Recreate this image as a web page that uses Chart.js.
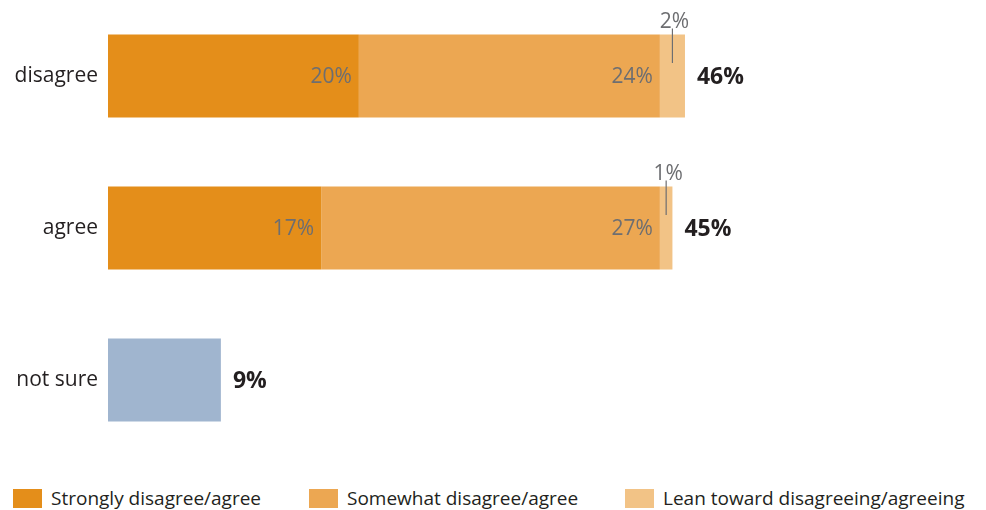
<!DOCTYPE html>
<html>
<head>
<meta charset="utf-8">
<script src="https://cdn.jsdelivr.net/npm/chart.js@4/dist/chart.umd.min.js"></script>
<style>
  html, body { margin: 0; padding: 0; background: #fff; }
  .wrap { position: relative; width: 986px; height: 510px; }
  #chartBox { position: absolute; left: 0; top: 0; width: 986px; height: 456px; }
  #legend { position: absolute; left: 0; top: 489px; width: 986px; height: 20px;
            font-family: "Open Sans", sans-serif; font-size: 19px; color: #231f20; }
  .leg-item { position: absolute; top: 0; display: flex; align-items: center; white-space: nowrap; }
  .leg-item:nth-child(1) { left: 13px; }
  .leg-item:nth-child(2) { left: 309px; }
  .leg-item:nth-child(3) { left: 625px; }
  .leg-box { width: 29px; height: 19px; margin-right: 9px; }
  .leg-text { line-height: 19px; }
</style>
</head>
<body>
<div class="wrap">
  <div id="chartBox"><canvas id="opinionChart"></canvas></div>
  <div id="legend"></div>
</div>
<script>
// Категории и значения (%)
const categories = ['disagree', 'agree', 'not sure'];
const seriesNames = ['Strongly disagree/agree', 'Somewhat disagree/agree', 'Lean toward disagreeing/agreeing'];
const strongValues = [20, 17, null];
const somewhatValues = [24, 27, null];
const leanValues = [2, 1, null];
const notSureValues = [null, null, 9];

const colors = {
    strong: '#e48e1a',
    somewhat: '#eca752',
    lean: '#f2c386',
    notSure: '#a0b5cf'
};

const labelFont = '21px "Open Sans", sans-serif';
const totalFont = 'bold 23px "Open Sans", sans-serif';

// Подписи значений внутри/над сегментами и итоги справа
const valueLabels = {
    id: 'valueLabels',
    afterDatasetsDraw(chart) {
        const ctx = chart.ctx;
        const totals = categories.map(() => ({ sum: 0, right: 0, y: 0 }));
        ctx.save();
        chart.data.datasets.forEach((ds, di) => {
            const meta = chart.getDatasetMeta(di);
            meta.data.forEach((bar, i) => {
                const v = ds.data[i];
                if (v === null || v === undefined) return;
                const p = bar.getProps(['x', 'y', 'base', 'height'], true);
                totals[i].sum += v;
                totals[i].right = Math.max(totals[i].right, p.x);
                totals[i].y = p.y;
                if (!ds.inlineLabels) return;
                const w = p.x - p.base;
                ctx.font = labelFont;
                ctx.fillStyle = '#6d6e71';
                if (w > 60) {
                    ctx.textAlign = 'right';
                    ctx.textBaseline = 'middle';
                    ctx.fillText(v + '%', p.x - 7, p.y + 1);
                } else {
                    // узкий сегмент: подпись сверху с выноской
                    const cx = (p.x + p.base) / 2;
                    const top = p.y - p.height / 2;
                    ctx.strokeStyle = '#6d6e71';
                    ctx.lineWidth = 1.2;
                    ctx.beginPath();
                    ctx.moveTo(cx, top - 6);
                    ctx.lineTo(cx, p.y - 13);
                    ctx.stroke();
                    ctx.textAlign = 'center';
                    ctx.textBaseline = 'alphabetic';
                    ctx.fillText(v + '%', cx + 2, top - 7);
                }
            });
        });
        ctx.font = totalFont;
        ctx.fillStyle = '#231f20';
        ctx.textAlign = 'left';
        ctx.textBaseline = 'middle';
        totals.forEach(t => {
            if (!t.sum) return;
            ctx.fillText(t.sum + '%', t.right + 12, t.y + 1);
        });
        ctx.restore();
    }
};

function buildLegend() {
    const legend = document.getElementById('legend');
    const legendColors = [colors.strong, colors.somewhat, colors.lean];
    seriesNames.forEach((name, i) => {
        const item = document.createElement('div');
        item.className = 'leg-item';
        item.innerHTML = `<span class="leg-box" style="background:${legendColors[i]}"></span><span class="leg-text">${name}</span>`;
        legend.appendChild(item);
    });
}

function createChart() {
    return new Chart('opinionChart', {
        type: 'bar',
        data: {
            labels: categories,
            datasets: [
                { label: seriesNames[0], data: strongValues, backgroundColor: colors.strong, inlineLabels: true },
                { label: seriesNames[1], data: somewhatValues, backgroundColor: colors.somewhat, inlineLabels: true },
                { label: seriesNames[2], data: leanValues, backgroundColor: colors.lean, inlineLabels: true },
                { label: 'not sure', data: notSureValues, backgroundColor: colors.notSure, inlineLabels: false }
            ]
        },
        options: {
            indexAxis: 'y',
            responsive: true,
            maintainAspectRatio: false,
            animation: false,
            layout: { padding: 0 },
            datasets: {
                bar: { barPercentage: 0.546, categoryPercentage: 1, borderWidth: 0 }
            },
            plugins: {
                legend: { display: false },
                tooltip: { enabled: false }
            },
            scales: {
                x: {
                    stacked: true,
                    display: false,
                    min: 0,
                    max: 70
                },
                y: {
                    stacked: true,
                    afterFit(scale) {
                        scale.width = 108;
                        // без отступов под подписи сверху и снизу
                        scale.paddingTop = 0;
                        scale.paddingBottom = 0;
                    },
                    grid: { display: false, drawTicks: false },
                    border: { display: false },
                    ticks: {
                        padding: 10,
                        color: '#231f20',
                        font: { family: '"Open Sans", sans-serif', size: 21 }
                    }
                }
            }
        },
        plugins: [valueLabels]
    });
}

document.addEventListener('DOMContentLoaded', () => {
    buildLegend();
    createChart();
});
</script>
</body>
</html>
